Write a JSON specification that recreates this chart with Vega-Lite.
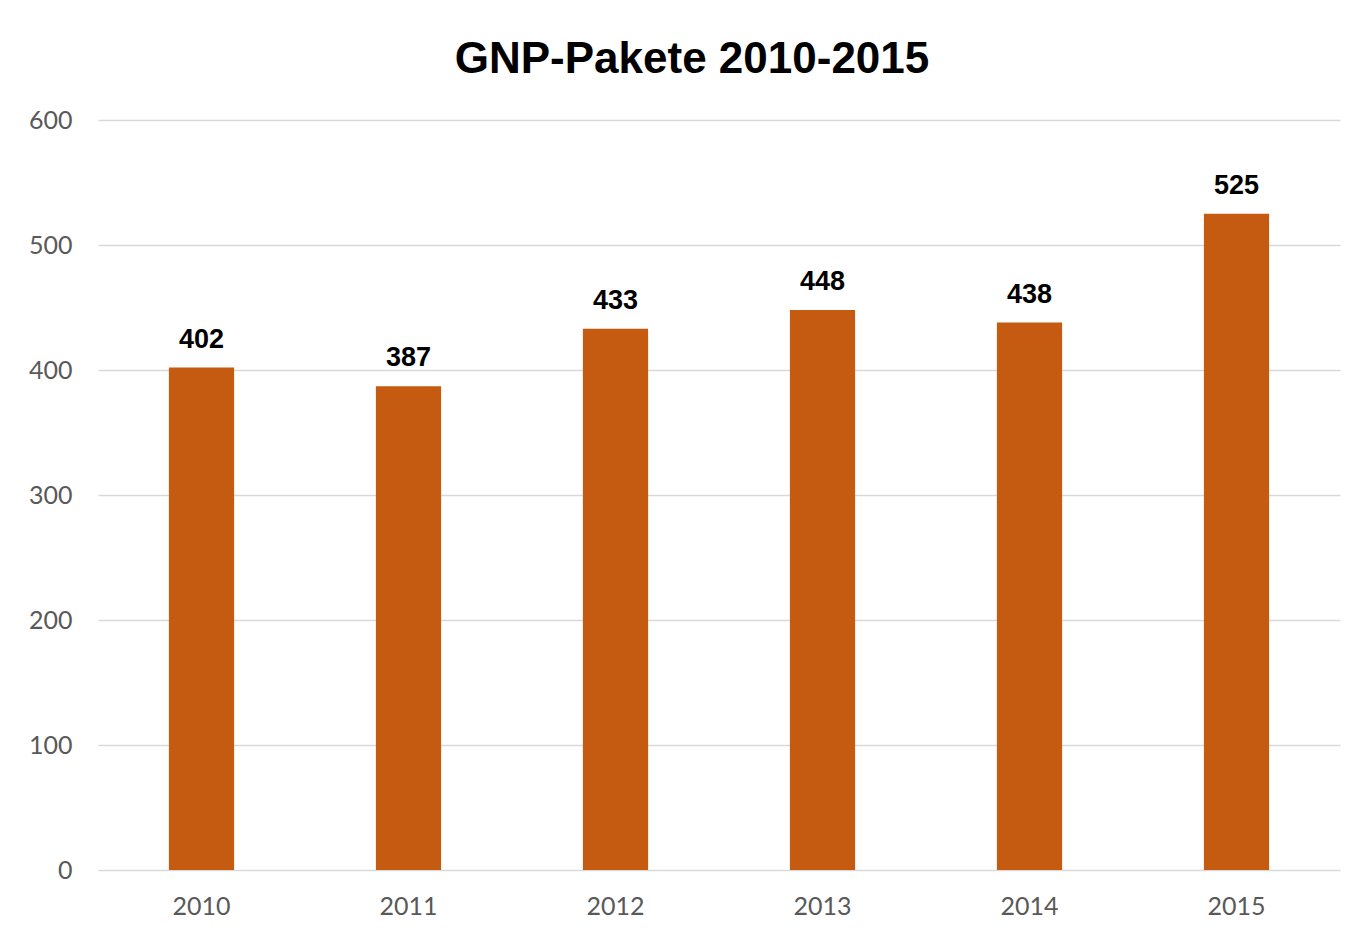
{
  "$schema": "https://vega.github.io/schema/vega-lite/v6.json",
  "autosize": {"type": "none"},
  "width": 1242,
  "height": 750,
  "padding": {"left": 98, "top": 120, "right": 20, "bottom": 67},
  "background": "white",
  "title": {
    "text": "GNP-Pakete 2010-2015",
    "font": "Liberation Sans",
    "fontSize": 44,
    "fontWeight": "bold",
    "color": "#000000",
    "anchor": "middle",
    "baseline": "alphabetic",
    "offset": 48,
    "dx": -27,
    "dy": 57
  },
  "data": {
    "values": [
      {"Jahr": "2010", "Pakete": 402},
      {"Jahr": "2011", "Pakete": 387},
      {"Jahr": "2012", "Pakete": 433},
      {"Jahr": "2013", "Pakete": 448},
      {"Jahr": "2014", "Pakete": 438},
      {"Jahr": "2015", "Pakete": 525}
    ]
  },
  "encoding": {
    "x": {
      "field": "Jahr",
      "type": "ordinal",
      "scale": {"paddingInner": 0, "paddingOuter": 0},
      "axis": {
        "title": null,
        "labelAngle": 0,
        "labelFont": "Lato",
        "labelFontSize": 25,
        "labelColor": "#595959",
        "labelPadding": 24,
        "ticks": false,
        "domain": false,
        "grid": false
      }
    },
    "y": {
      "field": "Pakete",
      "type": "quantitative",
      "scale": {"domain": [0, 600]},
      "axis": {
        "title": null,
        "values": [0, 100, 200, 300, 400, 500, 600],
        "labelFont": "Lato",
        "labelFontSize": 25,
        "labelColor": "#595959",
        "labelPadding": 26,
        "ticks": false,
        "domain": false,
        "grid": true,
        "gridColor": "#d9d9d9",
        "gridWidth": 1.5
      }
    }
  },
  "layer": [
    {
      "mark": {"type": "bar", "color": "#c55a11", "width": {"band": 0.315}}
    },
    {
      "mark": {
        "type": "text",
        "font": "Liberation Sans",
        "fontSize": 27,
        "fontWeight": "bold",
        "color": "#000000",
        "baseline": "alphabetic",
        "dy": -20
      },
      "encoding": {"text": {"field": "Pakete", "type": "quantitative"}}
    }
  ],
  "config": {"view": {"stroke": null}}
}
